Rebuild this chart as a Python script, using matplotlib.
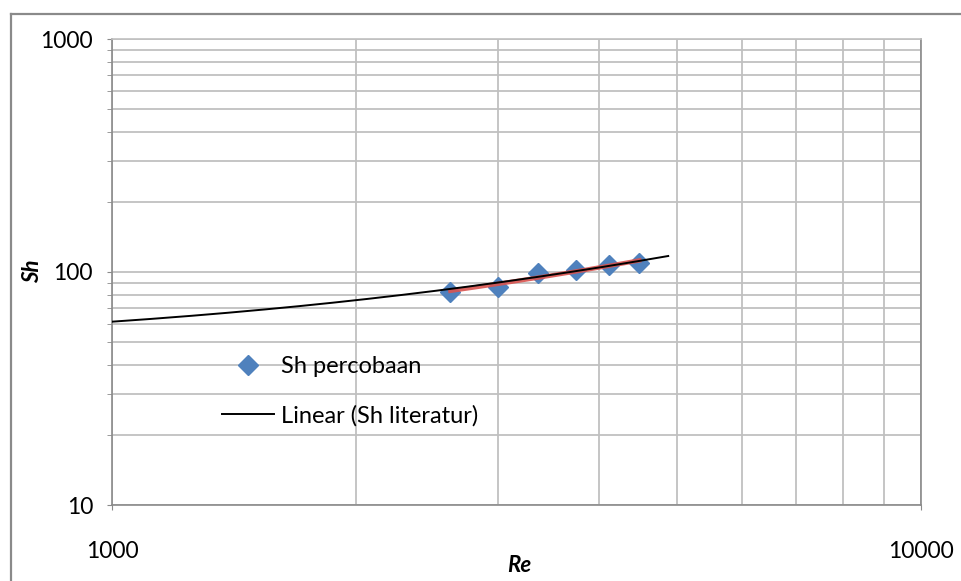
import numpy as np
import matplotlib
matplotlib.use("Agg")
import matplotlib.pyplot as plt
from matplotlib.lines import Line2D
from matplotlib.ticker import LogLocator, NullFormatter, FixedLocator

plt.rcParams['font.family'] = ['Lato', 'DejaVu Sans']

# Sh percobaan (experiment)
re_exp = [2620, 3000, 3365, 3750, 4115, 4485]
sh_exp = [82.3, 85.9, 98.7, 102.0, 107.2, 109.6]

# linear trendline of Sh literatur: Sh = a * Re + b
lit_slope = 0.01445
lit_intercept = 46.75
lit_re_range = [1000, 4870]

grid_col = '#c0c0c0'
axis_col = '#8a8a8a'
px = 72 / 100  # points per pixel

fig = plt.figure(figsize=(9.62, 5.81), dpi=100)
ax = fig.add_axes([112 / 962, 1 - 505 / 581, 809 / 962, 466 / 581])

# outer chart border
fig.add_artist(Line2D([11 / 962, 11 / 962], [-0.1, 1 - 14 / 581],
                      transform=fig.transFigure, color=axis_col, lw=1.6))
fig.add_artist(Line2D([11 / 962, 1.1], [1 - 14 / 581, 1 - 14 / 581],
                      transform=fig.transFigure, color=axis_col, lw=1.6))

ax.set_xscale('log')
ax.set_yscale('log')
ax.set_xlim(1000, 10000)
ax.set_ylim(10, 1000)

# trendline through experiment points
coef = np.polyfit(re_exp, sh_exp, 1)
re_fit = np.linspace(re_exp[0], re_exp[-1], 50)
ax.plot(re_fit, np.polyval(coef, re_fit), color='#d9534f', lw=3.2,
        alpha=0.9, zorder=3)

re_lit = np.linspace(lit_re_range[0], lit_re_range[1], 200)
ax.plot(re_lit, lit_slope * re_lit + lit_intercept, color='black', lw=1.4,
        zorder=4, label='Linear (Sh literatur)')

ax.plot(re_exp, sh_exp, linestyle='none', marker='D', markersize=10,
        color='#4f81bd', markeredgecolor='#4f81bd', zorder=2,
        label='Sh percobaan')

ax.xaxis.set_major_locator(FixedLocator([1000, 10000]))
ax.xaxis.set_minor_locator(FixedLocator(np.arange(2000, 10000, 1000)))
ax.xaxis.set_minor_formatter(NullFormatter())
ax.set_xticklabels(['1000', '10000'])
ax.yaxis.set_major_locator(FixedLocator([10, 100, 1000]))
ax.yaxis.set_minor_locator(LogLocator(base=10, subs=np.arange(2, 10)))
ax.yaxis.set_minor_formatter(NullFormatter())
ax.set_yticklabels(['10', '100', '1000'])

ax.grid(True, which='both', color=grid_col, lw=1.3)
ax.set_axisbelow(True)

ax.tick_params(axis='x', which='major', length=5 * px, color=axis_col,
               labelsize=16.5, pad=31 * px)
ax.tick_params(axis='x', which='minor', length=0)
ax.tick_params(axis='y', which='both', length=5 * px, color=axis_col,
               labelsize=16.5, pad=14 * px)

for side in ['left', 'bottom', 'right', 'top']:
    ax.spines[side].set_color(axis_col)
    ax.spines[side].set_linewidth(1.2)
ax.spines['top'].set_color(grid_col)

ax.set_xlabel('Re', fontsize=16, fontweight='bold', fontstyle='italic')
ax.xaxis.set_label_coords((519 - 112) / 809, -(566 - 505) / 466)
ax.xaxis.label.set_va('center')
ax.set_ylabel('Sh', fontsize=16, fontweight='bold', fontstyle='italic')
ax.yaxis.set_label_coords((33 - 112) / 809, (505 - 271) / 466)
ax.yaxis.label.set_va('center')

handles, labels = ax.get_legend_handles_labels()
leg = ax.legend(handles[::-1], labels[::-1], loc='upper left',
                bbox_to_anchor=((222 - 112) / 809, (505 - 356) / 466),
                frameon=False, fontsize=17, borderpad=0, borderaxespad=0,
                handlelength=2.2, labelspacing=1.18, handletextpad=0.28)

fig.savefig('out.png', dpi=100)
